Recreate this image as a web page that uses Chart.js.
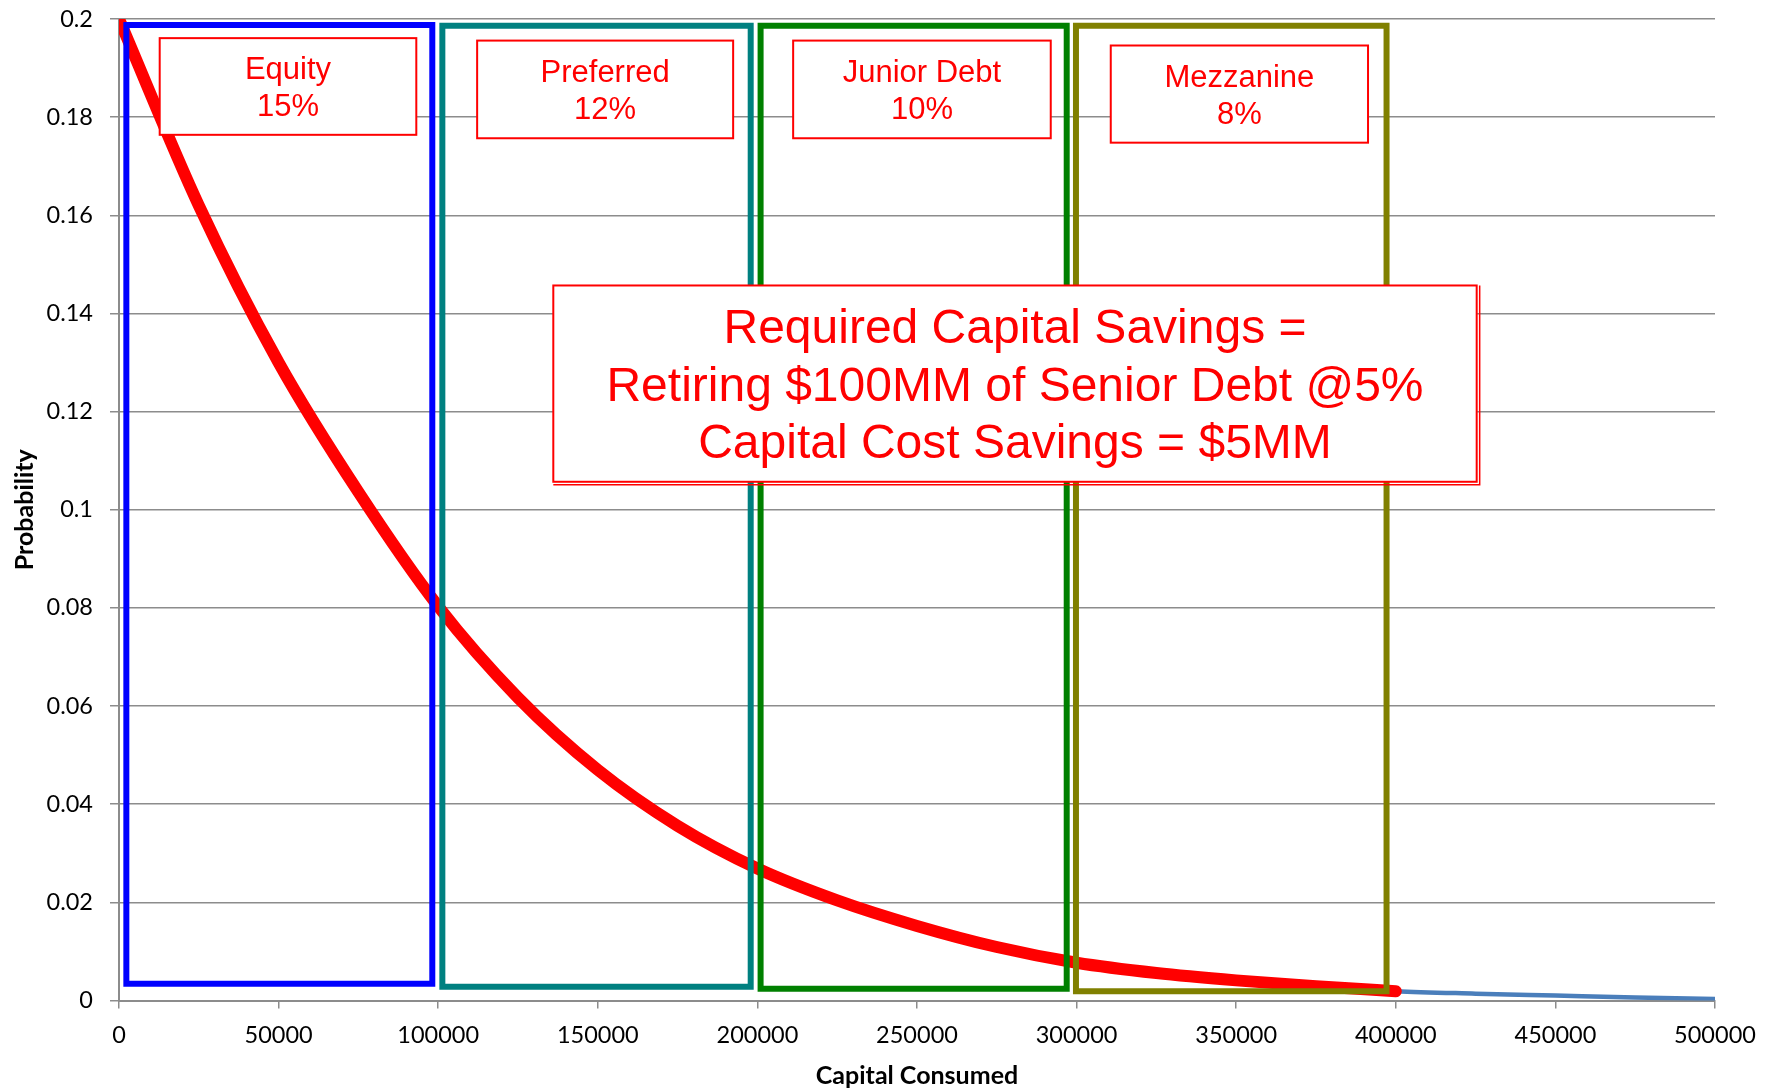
<!DOCTYPE html>
<html>
<head>
<meta charset="utf-8">
<script src="https://cdn.jsdelivr.net/npm/chart.js@4.4.1/dist/chart.umd.min.js"></script>
<style>
  html, body { margin: 0; padding: 0; background: #fff; }
</style>
</head>
<body>
<canvas id="capital-chart" width="1777" height="1089"></canvas>
<script>
// Loss distribution: probability of consuming a given amount of capital
const capital = [0, 25000, 50000, 75000, 100000, 125000, 150000, 175000, 200000, 225000,
  250000, 275000, 300000, 325000, 350000, 375000, 400000, 425000, 450000, 475000, 500000];
const probability = [0.2, 0.162, 0.130, 0.1036, 0.0803, 0.0617, 0.047, 0.0356, 0.0269, 0.0204,
  0.0152, 0.0109, 0.0077, 0.0056, 0.0041, 0.0029, 0.0019, 0.0014, 0.001, 0.0006, 0.0003];
const coveredUpTo = 400000; // capital stack ends here (red overlay)

// Capital tranches and their cost
const tranches = ['Equity', 'Preferred', 'Junior Debt', 'Mezzanine'];
const trancheCost = ['15%', '12%', '10%', '8%'];

const summaryLines = [
  'Required Capital Savings =',
  'Retiring $100MM of Senior Debt @5%',
  'Capital Cost Savings = $5MM'
];

// Frame drawn around each tranche, in axis units [left, right, bottom, top]
const frames = [
  [2300, 98150, 0.0034, 0.1988],
  [101300, 197900, 0.0028, 0.1986],
  [201000, 296900, 0.0024, 0.1986],
  [299800, 397100, 0.0019, 0.1986]
];
const frameColors = ['#0000ff', '#008080', '#008000', '#808000'];

// Label boxes, in axis units [left, right, bottom, top]
const labelBoxes = [
  [12750, 93140, 0.1764, 0.1961],
  [112200, 192400, 0.1757, 0.1956],
  [211200, 291900, 0.1757, 0.1956],
  [310700, 391300, 0.1748, 0.1946]
];
const summaryBox = [136060, 425340, 0.1057, 0.1457];

const gridGray = '#8c8c8c';

const callouts = labelBoxes.map((b, i) => ({ box: b, lines: [tranches[i], trancheCost[i]], size: 31 }));
callouts.push({ box: summaryBox, lines: summaryLines, size: 48, double: true });

// white boxes with red text, drawn over the lines
const calloutPlugin = {
  id: 'callouts',
  afterDatasetsDraw(chart) {
    const { ctx, scales: { x, y } } = chart;
    callouts.forEach(c => {
      const l = x.getPixelForValue(c.box[0]);
      const r = x.getPixelForValue(c.box[1]);
      const b = y.getPixelForValue(c.box[2]);
      const t = y.getPixelForValue(c.box[3]);
      ctx.save();
      ctx.fillStyle = '#ffffff';
      ctx.fillRect(l, t, r - l, b - t);
      ctx.strokeStyle = '#ff0000';
      ctx.lineWidth = 2;
      ctx.strokeRect(l, t, r - l, b - t);
      if (c.double) {
        ctx.lineWidth = 1.5;
        ctx.beginPath();
        ctx.moveTo(l, b + 3);
        ctx.lineTo(r + 3, b + 3);
        ctx.lineTo(r + 3, t);
        ctx.stroke();
      }
      ctx.fillStyle = '#ff0000';
      ctx.font = c.size + 'px "Liberation Sans", Arial, sans-serif';
      ctx.textAlign = 'center';
      ctx.textBaseline = 'alphabetic';
      const lh = c.size * 1.2;
      const cap = c.size * 0.716;
      const cx = (l + r) / 2, cy = (t + b) / 2;
      c.lines.forEach((s, i) => {
        const mid = cy + (i - (c.lines.length - 1) / 2) * lh;
        ctx.fillText(s, cx, mid + cap / 2);
      });
      ctx.restore();
    });
  }
};

const frameSets = frames.map((f, i) => ({
  label: tranches[i],
  data: [
    { x: f[0], y: f[2] }, { x: f[0], y: f[3] }, { x: f[1], y: f[3] },
    { x: f[1], y: f[2] }, { x: f[0], y: f[2] }
  ],
  borderColor: frameColors[i],
  borderWidth: 6,
  borderJoinStyle: 'miter',
  borderCapStyle: 'square',
  tension: 0,
  pointRadius: 0,
  order: 0
}));

const points = capital.map((c, i) => ({ x: c, y: probability[i] }));

// keep the plot area where the layout padding puts it
const noEdgePadding = s => {
  s.paddingTop = 0;
  s.paddingBottom = 0;
  s.paddingLeft = 0;
  s.paddingRight = 0;
};

new Chart(document.getElementById('capital-chart'), {
  type: 'line',
  data: {
    datasets: [
      ...frameSets,
      {
        label: 'Covered',
        data: points.filter(p => p.x <= coveredUpTo),
        borderColor: '#ff0000',
        borderWidth: 12,
        borderCapStyle: 'round',
        cubicInterpolationMode: 'monotone',
        pointRadius: 0,
        order: 1
      },
      {
        label: 'Distribution',
        data: points,
        borderColor: '#4a7ebb',
        borderWidth: 4.5,
        borderCapStyle: 'round',
        cubicInterpolationMode: 'monotone',
        pointRadius: 0,
        order: 2
      }
    ]
  },
  options: {
    responsive: false,
    devicePixelRatio: 1,
    animation: false,
    layout: { padding: { top: 19, right: 62, left: 0, bottom: 0 } },
    plugins: {
      legend: { display: false },
      tooltip: { enabled: false }
    },
    scales: {
      x: {
        type: 'linear',
        min: 0,
        max: 500000,
        afterFit: s => { s.height = 88.5; noEdgePadding(s); },
        ticks: {
          stepSize: 50000,
          color: '#000',
          padding: 13,
          maxRotation: 0,
          font: { family: 'Lato', size: 23.5 },
          callback: v => String(v)
        },
        grid: { drawOnChartArea: false, tickLength: 8, color: gridGray, lineWidth: 1.5 },
        border: { color: gridGray, width: 2 },
        title: {
          display: true,
          text: 'Capital Consumed',
          color: '#000',
          font: { family: 'Lato', size: 25, weight: 'bold' },
          padding: { top: 0, bottom: -2 }
        }
      },
      y: {
        min: 0,
        max: 0.2,
        afterFit: s => { s.width = 119; noEdgePadding(s); },
        ticks: {
          stepSize: 0.02,
          color: '#000',
          padding: 17,
          font: { family: 'Lato', size: 23.5 },
          callback: v => String(+v.toFixed(2))
        },
        grid: { tickLength: 9, color: gridGray, lineWidth: 1.5 },
        border: { color: gridGray, width: 2 },
        title: {
          display: true,
          text: 'Probability',
          color: '#000',
          font: { family: 'Lato', size: 25, weight: 'bold' },
          padding: { top: 10, bottom: 0 }
        }
      }
    }
  },
  plugins: [calloutPlugin]
});
</script>
</body>
</html>
